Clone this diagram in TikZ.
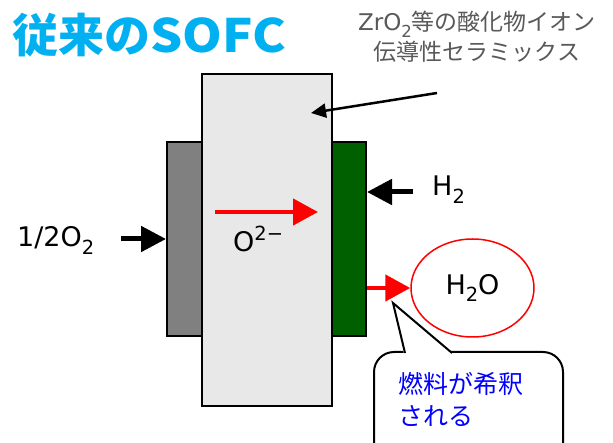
\documentclass[tikz,border=0pt]{standalone}
\usepackage{fontspec}
\setmainfont{DejaVu Sans}
\newfontfamily\jp{Noto Sans CJK JP}
\newfontfamily\lat{DejaVu Sans}
\usetikzlibrary{arrows.meta,shapes.geometric}
\definecolor{titlecyan}{HTML}{00B0F0}
\definecolor{notegray}{HTML}{595959}
\definecolor{lightfill}{HTML}{E8E8E8}
\definecolor{cathgray}{HTML}{808080}
\definecolor{anodegreen}{HTML}{006000}
\definecolor{noteblue}{HTML}{0000FF}
\newcommand\dn[1]{\raisebox{-0.28em}{\scalebox{0.72}{#1}}}
\newcommand\up[1]{\raisebox{0.42em}{\scalebox{0.72}{#1}}}
\begin{document}
\begin{tikzpicture}[x=1pt,y=-1pt,
  layer/.style={draw=black,line width=2pt,inner sep=0pt,minimum width=#1},
  label/.style={font=\fontsize{27}{32}\selectfont,inner sep=0pt,anchor=base west},
  blackarrow/.style={draw=black,line width=5pt,-{Triangle[length=25pt,width=25pt]}},
  redarrow/.style={draw=red,line width=4.5pt,-{Triangle[length=25pt,width=26pt]}},
  notearrow/.style={draw=black,line width=2.5pt,-{Triangle[length=15pt,width=14pt]}}]
\clip (0,0) rectangle (613,443);
\fill[white] (0,0) rectangle (613,443);

% title
\node[inner sep=0pt,anchor=base west,text=titlecyan,font=\jp\bfseries\fontsize{46}{50}\selectfont] (title) at (12,53) {従来の\scalebox{1.1}[1]{SOFC}};

% annotation
\node[inner sep=0pt,align=center,text=notegray,font=\jp\fontsize{23}{30}\selectfont] (ceramic) at (477,37) {{\lat ZrO\dn{2}}等の酸化物イオン\\伝導性セラミックス};

% cell layers
\node[layer=35pt,minimum height=194pt,fill=cathgray] (cathode) at (184.5,239) {};
\node[layer=34pt,minimum height=194pt,fill=anodegreen] (anode) at (349,239) {};
\node[layer=130pt,minimum height=332pt,fill=lightfill] (electrolyte) at (267,240) {};

% labels
\node[label] (o2) at (17,247) {1/2O\dn{2}};
\node[label] (oion) at (233,252) {O\up{2−}};
\node[label] (h2) at (432,196) {H\dn{2}};
\node[ellipse,draw=red,line width=1.5pt,fill=white,minimum width=123pt,minimum height=98pt,inner sep=0pt,font=\fontsize{27}{32}\selectfont] (h2o) at (472.5,288) {H\dn{2}O};

% arrows
\coordinate (ionstart) at (215,212);
\coordinate (ionend) at (318,212);
\draw[redarrow] (ionstart) -- (ionend);
\draw[blackarrow] ([xshift=-45pt]cathode.west) -- (cathode.west);
\draw[blackarrow] ([xshift=46pt,yshift=47pt]anode.east) -- ([yshift=47pt]anode.east);
\draw[redarrow] ([yshift=-49pt]anode.east) -- (h2o.west);

\coordinate (notestart) at (437,93);
\coordinate (noteend) at (311,113);
\draw[notearrow] (notestart) -- (noteend);

% callout
\node[draw=black,line width=2pt,fill=white,rounded corners=20pt,minimum width=189pt,minimum height=120pt,inner sep=0pt] (callout) at (468.5,412) {};
\coordinate (pointertip) at (393,303);
\fill[white] (404,354) -- (pointertip) -- (453,354) -- cycle;
\draw[line width=2pt,line join=miter] (405,353) -- (pointertip) -- (452,353);
\node[inner sep=0pt,align=left,anchor=west,text=noteblue,font=\jp\fontsize{25}{32}\selectfont] (callouttext) at (398,399) {燃料が希釈\\される};
\end{tikzpicture}
\end{document}
